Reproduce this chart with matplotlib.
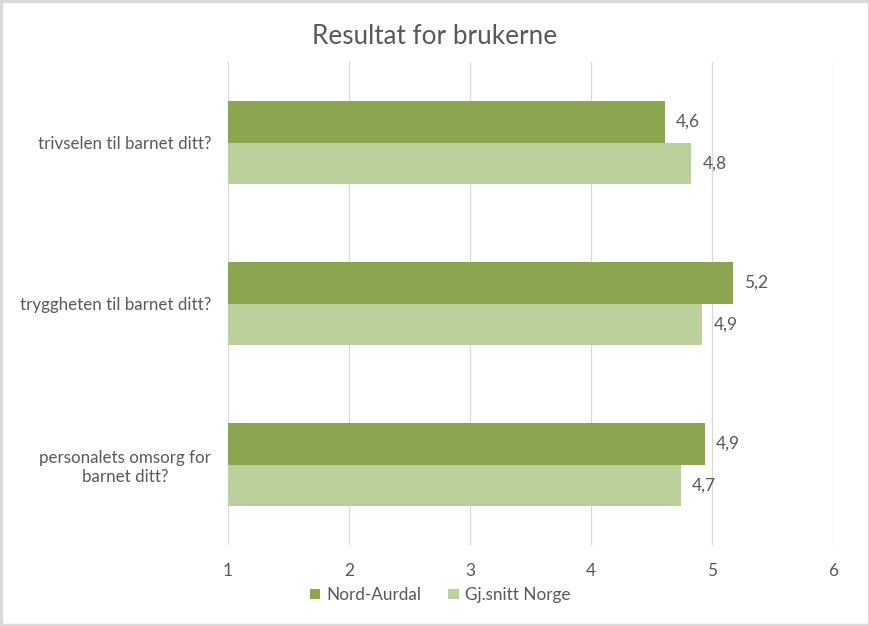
import matplotlib
matplotlib.use("Agg")
import matplotlib.pyplot as plt
import numpy as np

categories = ["trivselen til barnet ditt?", "tryggheten til barnet ditt?", "personalets omsorg for\nbarnet ditt?"]
series_names = ["Nord-Aurdal", "Gj.snitt Norge"]
nord_aurdal = [4.61, 5.17, 4.94]
gj_snitt = [4.83, 4.92, 4.74]
xticks = [1, 2, 3, 4, 5, 6]

plt.rcParams['font.family'] = ['Lato', 'DejaVu Sans']
txt = '#595959'
c_dark = '#8BA64E'
c_light = '#BBD09A'

fig = plt.figure(figsize=(8.7, 6.26), dpi=100)
ax = fig.add_axes([228/870, 1-545/626, (833-228)/870, (545-62)/626])

y = np.arange(len(categories))
h = 0.26
b1 = ax.barh(y - h/2, [v - 1 for v in nord_aurdal], left=1, height=h, color=c_dark, label=series_names[0], zorder=3)
b2 = ax.barh(y + h/2, [v - 1 for v in gj_snitt], left=1, height=h, color=c_light, label=series_names[1], zorder=3)

for bars, vals in ((b1, nord_aurdal), (b2, gj_snitt)):
    for rect, v in zip(bars, vals):
        ax.annotate(f"{v:.1f}".replace('.', ','), (v, rect.get_y() + rect.get_height()/2),
                    xytext=(8, 0), textcoords='offset points', va='center', ha='left',
                    fontsize=12.5, color=txt)

ax.set_xlim(1, 6)
ax.set_ylim(2.5, -0.5)
ax.set_xticks(xticks)
ax.set_xticklabels([str(t) for t in xticks])
ax.set_yticks(y)
ax.set_yticklabels(categories, ha='right', multialignment='center')
ax.tick_params(axis='y', length=0, pad=12, labelsize=12.2, labelcolor=txt)
ax.tick_params(axis='x', length=0, pad=13, labelsize=12.5, labelcolor=txt)
ax.grid(axis='x', color='#D9D9D9', linewidth=0.9, zorder=0)
for s in ax.spines.values():
    s.set_visible(False)

fig.suptitle("Resultat for brukerne", x=0.5, y=1-37/626, va='center', fontsize=18.8, color=txt)

fig.legend(handles=[b1, b2], loc='center', bbox_to_anchor=(440/870, 1-595/626), ncol=2, frameon=False,
           fontsize=12.3, labelcolor=txt, handlelength=0.6, handleheight=0.6, handletextpad=0.35, columnspacing=1.6)

border = plt.Rectangle((0.0015, 0.002), 0.997, 0.996, transform=fig.transFigure, fill=False,
                       edgecolor='#D9D9D9', linewidth=2.5)
fig.patches.append(border)

fig.savefig("out.png", dpi=100, facecolor='white')
